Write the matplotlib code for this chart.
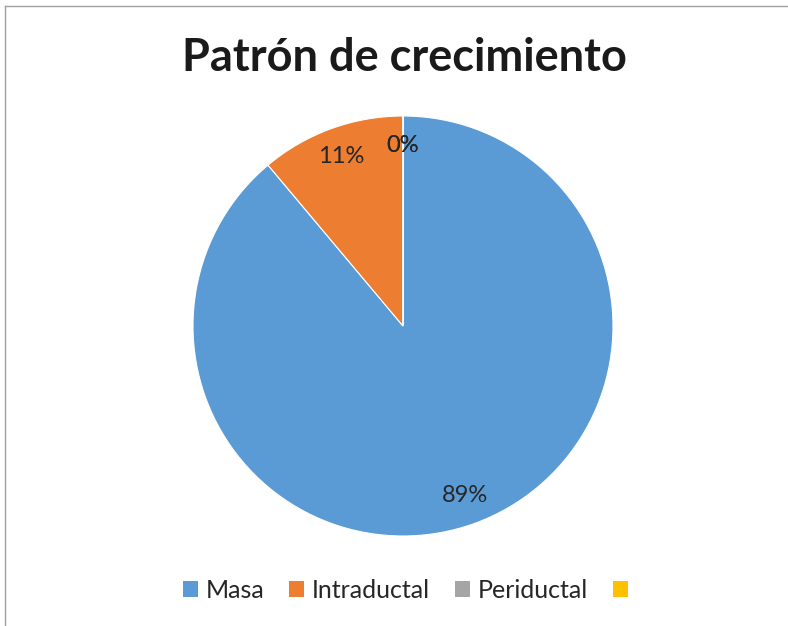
import matplotlib
matplotlib.use("Agg")
import matplotlib.pyplot as plt
from matplotlib.patches import Patch
from matplotlib.lines import Line2D

plt.rcParams["font.family"] = ["Lato", "DejaVu Sans"]

# data
categories = ["Masa", "Intraductal", "Periductal", ""]
values = [8, 1, 0, 0]
colors = ["#5B9BD5", "#ED7D31", "#A5A5A5", "#FFC000"]
title = "Patrón de crecimiento"

fig = plt.figure(figsize=(7.88, 6.26), dpi=100)
ax = fig.add_axes([(403 - 210) / 788, 1 - (326 + 210) / 626, 420 / 788, 420 / 626])

wedges, texts, autotexts = ax.pie(
    values, colors=colors, startangle=90, counterclock=False,
    autopct="%1.0f%%", pctdistance=0.86, radius=1.0,
    wedgeprops=dict(edgecolor="white", linewidth=0.8),
    textprops=dict(fontsize=17, color="#262626"),
)
ax.set_xlim(-1, 1)
ax.set_ylim(-1, 1)
ax.set_aspect("equal")

fig.text(404 / 788, 1 - 58 / 626, title, ha="center", va="center",
         fontsize=32.5, fontweight="bold", color="#1a1a1a")

handles = [Patch(facecolor=c, edgecolor="none") for c in colors]
fig.legend(handles, categories, loc="center", bbox_to_anchor=(409 / 788, 1 - 590 / 626),
           ncol=4, frameon=False, fontsize=18, handlelength=0.6, handleheight=0.6,
           handletextpad=0.3, columnspacing=1.0, labelcolor="#262626",
           borderpad=0, borderaxespad=0)

# chart frame (top and left edges visible)
fig.add_artist(Line2D([4.5 / 788, 4.5 / 788], [0, 1 - 5.5 / 626], transform=fig.transFigure,
                      color="#a0a0a0", linewidth=1))
fig.add_artist(Line2D([4.5 / 788, 1], [1 - 5.5 / 626, 1 - 5.5 / 626], transform=fig.transFigure,
                      color="#a0a0a0", linewidth=1))

fig.savefig("out.png", dpi=100)
